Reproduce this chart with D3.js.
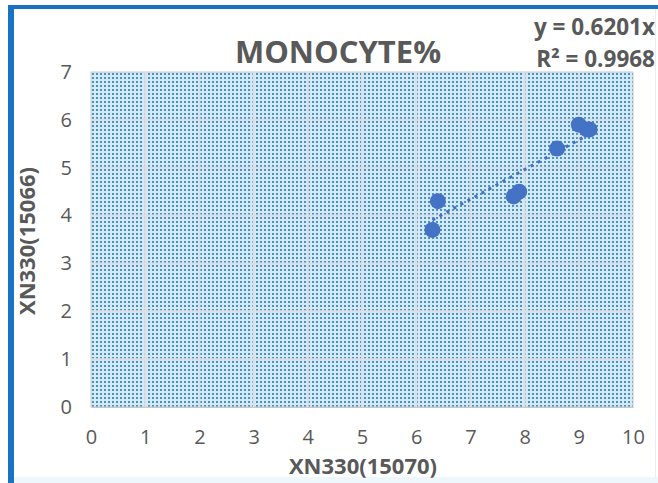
<!DOCTYPE html>
<html><head><meta charset="utf-8">
<script src="https://cdn.jsdelivr.net/npm/d3@7"></script>
<style>body{margin:0;background:#fff}svg{display:block}</style>
</head><body>
<svg id="c" width="658" height="483"></svg>
<script>
const xVals = [6.3, 6.4, 7.8, 7.9, 8.6, 9.0, 9.15, 9.2];
const yVals = [3.7, 4.3, 4.4, 4.5, 5.4, 5.9, 5.8, 5.8];
const xTicks = [0,1,2,3,4,5,6,7,8,9,10];
const yTicks = [0,1,2,3,4,5,6,7];
const slope = 0.6201;
const title = "MONOCYTE%";
const eqText = "y = 0.6201x";
const r2Text = "R² = 0.9968";
const xTitle = "XN330(15070)";
const yTitle = "XN330(15066)";

const svg = d3.select("#c");
const W = 658, H = 483;
const m = {l:91, r:633, t:72, b:407};
const x = d3.scaleLinear().domain([0,10]).range([m.l, m.r]);
const y = d3.scaleLinear().domain([0,7]).range([m.b, m.t]);
const font = "'Open Sans', 'Liberation Sans', sans-serif";
const gray = "#595959";

// frame
svg.append("rect").attr("x",0).attr("y",0).attr("width",W).attr("height",H).attr("fill","#fff");
svg.append("rect").attr("x",8).attr("y",477).attr("width",650).attr("height",6).attr("fill","#eef7fc");
svg.append("rect").attr("x",8).attr("y",5).attr("width",650).attr("height",4).attr("fill","#1a73c2");
svg.append("rect").attr("x",8).attr("y",5).attr("width",6).attr("height",478).attr("fill","#1a73c2");
svg.append("rect").attr("x",655).attr("y",9).attr("width",1).attr("height",470).attr("fill","#e8eef3");

// pattern
const defs = svg.append("defs");
const pat = defs.append("pattern").attr("id","dots").attr("patternUnits","userSpaceOnUse")
  .attr("width",4).attr("height",4).attr("x",m.l).attr("y",m.t);
pat.append("rect").attr("width",4).attr("height",4).attr("fill","#d5eaf7");
pat.append("rect").attr("x",1).attr("y",1).attr("width",2).attr("height",2).attr("fill","#4a90ca");

svg.append("rect").attr("x",m.l).attr("y",m.t).attr("width",m.r-m.l).attr("height",m.b-m.t)
  .attr("fill","url(#dots)").attr("stroke","#c9c9c9").attr("stroke-width",1);

// grid
const g = svg.append("g");
g.selectAll(".vx").data(xTicks.slice(1,-1)).join("line")
  .attr("x1",d=>x(d)).attr("x2",d=>x(d)).attr("y1",m.t).attr("y2",m.b)
  .attr("stroke","#dde0e3").attr("stroke-width",2);
g.selectAll(".hy").data(yTicks.slice(1,-1)).join("line")
  .attr("y1",d=>y(d)).attr("y2",d=>y(d)).attr("x1",m.l).attr("x2",m.r)
  .attr("stroke","#dde0e3").attr("stroke-width",2);

// axes labels
const xa = svg.append("g").attr("transform",`translate(0,${m.b})`)
  .call(d3.axisBottom(x).tickValues(xTicks).tickFormat(d3.format("d")).tickSize(0).tickPadding(23));
xa.select(".domain").attr("stroke","#c9c9c9");
xa.selectAll("text").attr("font-family",font).attr("font-size",20).attr("fill",gray);
const ya = svg.append("g").attr("transform",`translate(${m.l},0)`)
  .call(d3.axisLeft(y).tickValues(yTicks).tickFormat(d3.format("d")).tickSize(0).tickPadding(19));
ya.select(".domain").remove();
ya.selectAll("text").attr("font-family",font).attr("font-size",20).attr("fill",gray);

// trendline
const xMin = d3.min(xVals), xMax = d3.max(xVals);
svg.append("line").attr("x1",x(xMin)).attr("y1",y(slope*xMin)).attr("x2",x(xMax)).attr("y2",y(slope*xMax))
  .attr("stroke","#4472c4").attr("stroke-width",3).attr("stroke-dasharray","3,5");

// points
svg.selectAll(".pt").data(xVals.map((v,i)=>[v,yVals[i]])).join("circle")
  .attr("cx",d=>x(d[0])).attr("cy",d=>y(d[1])).attr("r",8).attr("fill","#4472c4");

// titles
svg.append("text").attr("x",338).attr("y",63).attr("text-anchor","middle")
  .attr("font-family",font).attr("font-weight","bold").attr("font-size",31).attr("fill",gray).text(title);
svg.append("text").attr("x",655).attr("y",35).attr("text-anchor","end")
  .attr("font-family",font).attr("font-weight","bold").attr("font-size",22.5).attr("fill",gray).text(eqText);
svg.append("text").attr("x",655).attr("y",67).attr("text-anchor","end")
  .attr("font-family",font).attr("font-weight","bold").attr("font-size",22.5).attr("fill",gray).text(r2Text);
svg.append("text").attr("x",363).attr("y",474).attr("text-anchor","middle")
  .attr("font-family",font).attr("font-weight","bold").attr("font-size",22).attr("fill",gray).text(xTitle);
svg.append("text").attr("transform","translate(35,241) rotate(-90)").attr("text-anchor","middle")
  .attr("font-family",font).attr("font-weight","bold").attr("font-size",22).attr("fill",gray).text(yTitle);
</script>
</body></html>
